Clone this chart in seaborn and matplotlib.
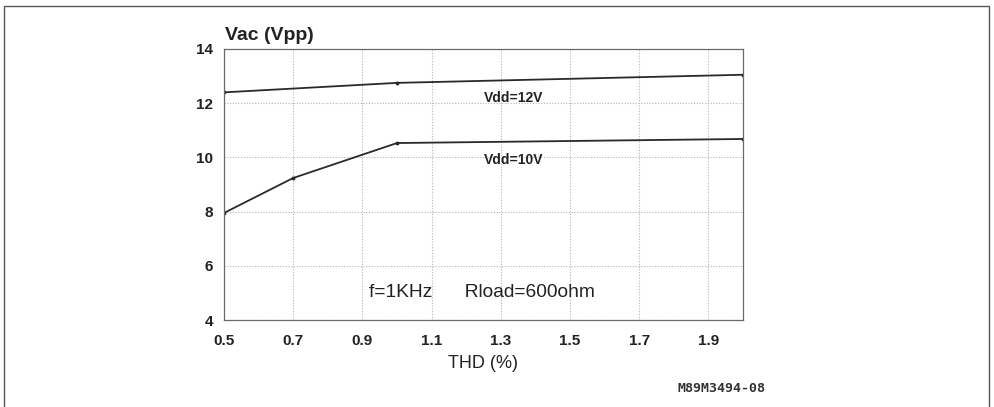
import matplotlib
matplotlib.use("Agg")
import matplotlib.pyplot as plt
import seaborn as sns
import pandas as pd
from matplotlib.patches import Rectangle

# Data
thd_12v = [0.5, 1.0, 2.0]
vac_12v = [12.4, 12.75, 13.05]
thd_10v = [0.5, 0.7, 1.0, 2.0]
vac_10v = [7.95, 9.24, 10.53, 10.68]
series_names = ["Vdd=12V", "Vdd=10V"]
x_ticks = [0.5, 0.7, 0.9, 1.1, 1.3, 1.5, 1.7, 1.9]
x_tick_labels = ["0.5", "0.7", "0.9", "1.1", "1.3", "1.5", "1.7", "1.9"]
y_ticks = [4, 6, 8, 10, 12, 14]

df = pd.concat([
    pd.DataFrame({"THD": thd_12v, "Vac": vac_12v, "series": series_names[0]}),
    pd.DataFrame({"THD": thd_10v, "Vac": vac_10v, "series": series_names[1]}),
])

sns.set_theme(style="white")
plt.rcParams["font.family"] = ["Liberation Sans", "DejaVu Sans"]

fig = plt.figure(figsize=(9.94, 4.07), dpi=100)
ax = fig.add_axes([224 / 994, 1 - 320 / 407, (743 - 224) / 994, (320 - 49) / 407])

sns.lineplot(data=df, x="THD", y="Vac", hue="series", units="series", estimator=None,
             palette=["#2a2a2a", "#2a2a2a"], linewidth=1.3, marker="o", markersize=2.8,
             markeredgewidth=0, legend=False, ax=ax, sort=False)

ax.set_xlim(0.5, 2.0)
ax.set_ylim(4, 14)
ax.set_xticks(x_ticks)
ax.set_xticklabels(x_tick_labels)
ax.set_yticks(y_ticks)
ax.grid(True, color="#b5b5b5", linestyle=(0, (1, 1.5)), linewidth=0.8)
ax.tick_params(axis="both", length=0, labelsize=11, colors="#222222")
ax.tick_params(axis="x", pad=10)
ax.tick_params(axis="y", pad=8)
for lab in ax.get_xticklabels() + ax.get_yticklabels():
    lab.set_fontweight("bold")
for sp in ax.spines.values():
    sp.set_color("#6a6a6a")
    sp.set_linewidth(0.9)

ax.set_xlabel("")
ax.set_ylabel("")

fig.text(225 / 994, 1 - 35 / 407, "Vac (Vpp)", fontsize=14, fontweight="bold",
         color="#222222", ha="left", va="center")
fig.text(483 / 994, 1 - 364 / 407, "THD (%)", fontsize=13, color="#222222",
         ha="center", va="center")
ax.text(1.25, 12.19, series_names[0], fontsize=10, fontweight="bold", color="#222222",
        ha="left", va="center")
ax.text(1.25, 9.9, series_names[1], fontsize=10, fontweight="bold", color="#222222",
        ha="left", va="center")
ax.text(0.92, 5.0, "f=1KHz      Rload=600ohm", fontsize=13.8, color="#222222",
        ha="left", va="center")
fig.text(721 / 994, 1 - 388 / 407, "M89M3494-08", fontsize=9.5, fontweight="bold",
         color="#333333", ha="center", va="center", family="DejaVu Sans Mono")

fig.patches.append(Rectangle((4 / 994, -0.02), (989 - 4) / 994, 1 - 6 / 407 + 0.02,
                             transform=fig.transFigure, fill=False,
                             edgecolor="#555555", linewidth=1.0))

fig.savefig("out.png", dpi=100, facecolor="white")
